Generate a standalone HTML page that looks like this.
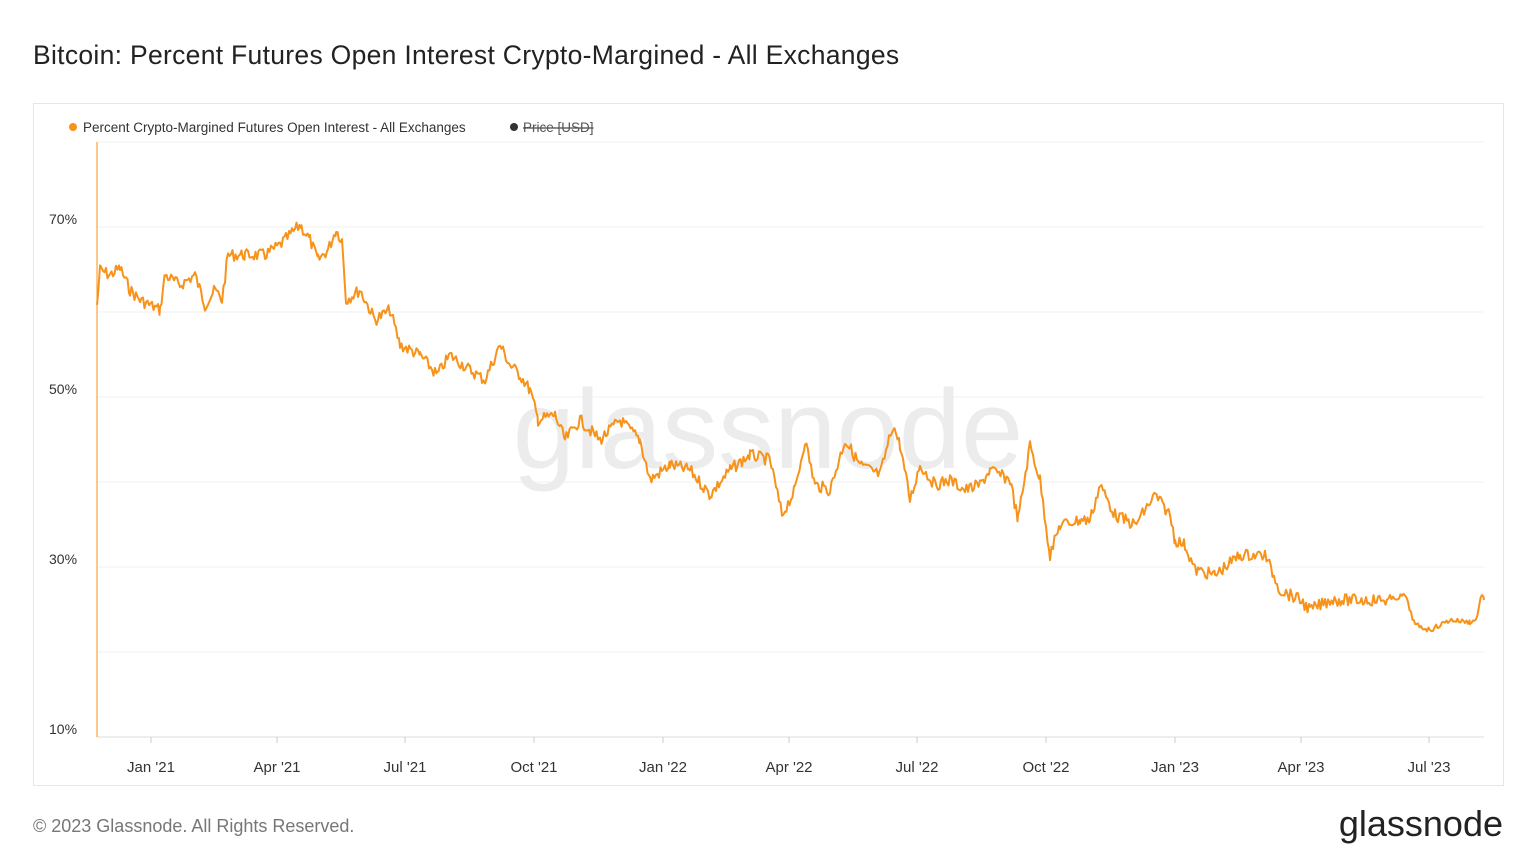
<!DOCTYPE html>
<html><head><meta charset="utf-8"><style>
body{margin:0;background:#fff;width:1536px;height:864px;overflow:hidden;font-family:"Liberation Sans",sans-serif;}
</style></head><body>
<svg id="s" width="1536" height="864" xmlns="http://www.w3.org/2000/svg" style="position:absolute;left:0;top:0">
<text x="33" y="64" font-size="26.5" fill="#222" font-family="Liberation Sans" letter-spacing="0.3">Bitcoin: Percent Futures Open Interest Crypto-Margined - All Exchanges</text>
<rect x="33.5" y="103.5" width="1470" height="682" fill="#fff" stroke="#e6e6e6"/>
<g stroke="#f0f0f0" stroke-width="1">
<line x1="97" x2="1484" y1="142" y2="142"/><line x1="97" x2="1484" y1="227" y2="227"/><line x1="97" x2="1484" y1="312" y2="312"/><line x1="97" x2="1484" y1="397" y2="397"/><line x1="97" x2="1484" y1="482" y2="482"/><line x1="97" x2="1484" y1="567" y2="567"/><line x1="97" x2="1484" y1="652" y2="652"/>
</g>
<line x1="97" x2="1484" y1="737" y2="737" stroke="#ddd"/>
<g font-size="14" fill="#333">
<text x="49" y="224">70%</text><text x="49" y="394">50%</text><text x="49" y="564">30%</text><text x="49" y="734">10%</text>
</g>
<g font-size="15" fill="#333" text-anchor="middle" id="xl"></g>
<text x="768" y="468" font-size="112" fill="#ececec" text-anchor="middle">glassnode</text>
<circle cx="73" cy="127" r="4" fill="#f7931a"/>
<text x="83" y="132" font-size="13.5" fill="#333">Percent Crypto-Margined Futures Open Interest - All Exchanges</text>
<circle cx="514" cy="127" r="4" fill="#333"/>
<text x="523" y="132" font-size="13.5" fill="#555" text-decoration="line-through">Price [USD]</text>
<line x1="97" y1="142" x2="97" y2="737" stroke="#f7931a" stroke-width="1"/>
<path id="p" fill="none" stroke="#f7931a" stroke-width="2" stroke-linejoin="round"/>
<text x="33" y="832" font-size="18" fill="#777">© 2023 Glassnode. All Rights Reserved.</text>
<text x="1503" y="836" font-size="36" fill="#222" text-anchor="end">glassnode</text>
</svg>
<script>
var xs=[[151,"Jan '21"],[277,"Apr '21"],[405,"Jul '21"],[534,"Oct '21"],[663,"Jan '22"],[789,"Apr '22"],[917,"Jul '22"],[1046,"Oct '22"],[1175,"Jan '23"],[1301,"Apr '23"],[1429,"Jul '23"]];
var g=document.getElementById('xl'),h="";
xs.forEach(function(a){h+='<line x1="'+a[0]+'" x2="'+a[0]+'" y1="737" y2="743" stroke="#ccc"/><text x="'+a[0]+'" y="772">'+a[1]+'</text>';});
g.innerHTML=h;
var k=[[97,305],[100,270],[110,275],[120,268],[130,290],[140,300],[160,310],[165,275],[180,285],[195,275],[205,305],[215,290],[222,300],[228,255],[245,255],[265,255],[280,245],[300,225],[310,240],[318,260],[328,250],[336,230],[342,240],[346,300],[360,290],[375,320],[390,310],[400,345],[420,355],[437,375],[450,355],[470,370],[485,380],[500,345],[510,365],[520,375],[530,390],[538,420],[555,415],[565,440],[580,420],[600,440],[620,420],[640,440],[650,480],[670,465],[690,470],[710,495],[730,470],[750,455],[770,460],[782,515],[795,490],[805,440],[815,485],[830,490],[845,440],[860,465],[880,475],[893,425],[900,445],[910,500],[920,465],[935,485],[950,480],[965,490],[980,485],[990,470],[1010,480],[1018,520],[1030,445],[1040,480],[1050,555],[1060,525],[1080,520],[1090,520],[1100,485],[1115,515],[1135,525],[1155,495],[1170,515],[1175,540],[1185,545],[1195,570],[1215,575],[1240,555],[1265,555],[1280,590],[1300,600],[1310,610],[1330,600],[1360,600],[1390,600],[1405,595],[1415,625],[1430,630],[1450,620],[1470,622],[1476,620],[1482,593],[1484,600]];
var seed=7;function r(){seed=(seed*9301+49297)%233280;return seed/233280;}
var d="",n=0;
for(var i=0;i<k.length-1;i++){var a=k[i],b=k[i+1];for(var x=a[0];x<b[0];x+=1.5){var t=(x-a[0])/(b[0]-a[0]);var y=a[1]+(b[1]-a[1])*t+(r()-0.5)*(x>1390?5:12);d+=(n++?"L":"M")+x.toFixed(1)+","+y.toFixed(1);}}
d+="L1484,600";
document.getElementById('p').setAttribute('d',d);
</script>
</body></html>
